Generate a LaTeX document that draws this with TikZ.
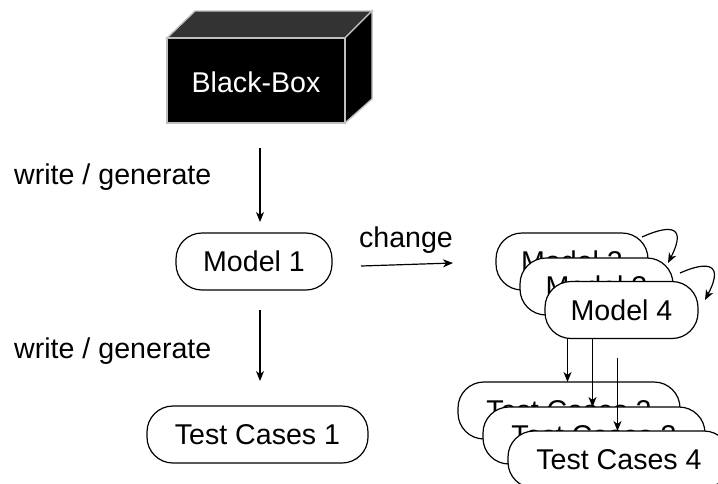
\documentclass[tikz,border=0pt]{standalone}
\usepackage{fontspec}
\setmainfont{Liberation Sans}
\usetikzlibrary{arrows.meta}
\begin{document}
\begin{tikzpicture}[x=1pt,y=-1pt,
  txt/.style={font=\fontsize{28.6}{33}\selectfont, inner sep=0pt},
  pill/.style={txt, draw=black, line width=1.2pt, fill=white, rounded corners=26pt, minimum height=57pt},
  arr/.style={line width=1.2pt, -{Stealth[length=10pt,width=8pt,inset=3pt]}},
  cubeedge/.style={draw=black!25, line width=1.4pt, line join=miter}
]
\useasboundingbox (0,0) rectangle (718,483);
\fill[white] (0,0) rectangle (718,483);

% black box cube
\filldraw[cubeedge, fill=black!80] (167,38) -- (195,11) -- (372,11) -- (345,38) -- cycle;
\filldraw[cubeedge, fill=black] (345,38) -- (372,11) -- (372,99) -- (345,123) -- cycle;
\filldraw[cubeedge, fill=black] (167,38) rectangle (345,123);
\node[txt, text=white] (bb) at (256,82) {Black-Box};

% labels
\node[txt, anchor=west] (wg1) at (14,177) {write / generate};
\node[txt, anchor=west] (wg2) at (14,351) {write / generate};
\node[txt] (chg) at (406,240) {change};

% model 1 and test cases 1
\node[pill, minimum width=156pt] (m1) at (254,261.5) {Model 1};
\node[pill, minimum width=221pt] (t1) at (257.5,434.5) {Test Cases 1};

\coordinate (a1s) at (260,148);
\coordinate (a1e) at (260,222);
\coordinate (a2s) at (260,310);
\coordinate (a2e) at (260,381);
\coordinate (cs) at (361,266);
\coordinate (ce) at (453,263);
\draw[arr] (a1s) -- (a1e);
\draw[arr] (a2s) -- (a2e);
\draw[arr] (cs) -- (ce);

% test cases stack
\node[pill, minimum width=222pt] (t2) at (569,410.5) {Test Cases 2};
\node[pill, minimum width=222pt] (t3) at (594,435.5) {Test Cases 3};
\node[pill, minimum width=222pt] (t4) at (619,459.5) {Test Cases 4};

% models stack
\node[pill, minimum width=152pt] (m2) at (572,261.5) {Model 2};
\coordinate (d1s) at (567.5,290);
\coordinate (d1e) at (567.5,382);
\coordinate (d2s) at (592.5,315);
\coordinate (d2e) at (592.5,407);
\coordinate (d3s) at (617.5,358);
\coordinate (d3e) at (617.5,431);
\draw[arr] (d1s) -- (d1e);
\draw[arr] (d2s) -- (d2e);
\draw[arr] (d3s) -- (d3e);
\node[pill, minimum width=153pt] (m3) at (596.5,286.5) {Model 3};
\node[pill, minimum width=153pt] (m4) at (621.5,310) {Model 4};

% self loops
\coordinate (l1s) at (642,237);
\coordinate (l1e) at (668,263);
\coordinate (l2s) at (680,273);
\coordinate (l2e) at (705,300);
\draw[arr] (l1s) .. controls (662,228) and (690,220) .. (l1e);
\draw[arr] (l2s) .. controls (700,264) and (727,258) .. (l2e);
\end{tikzpicture}
\end{document}
